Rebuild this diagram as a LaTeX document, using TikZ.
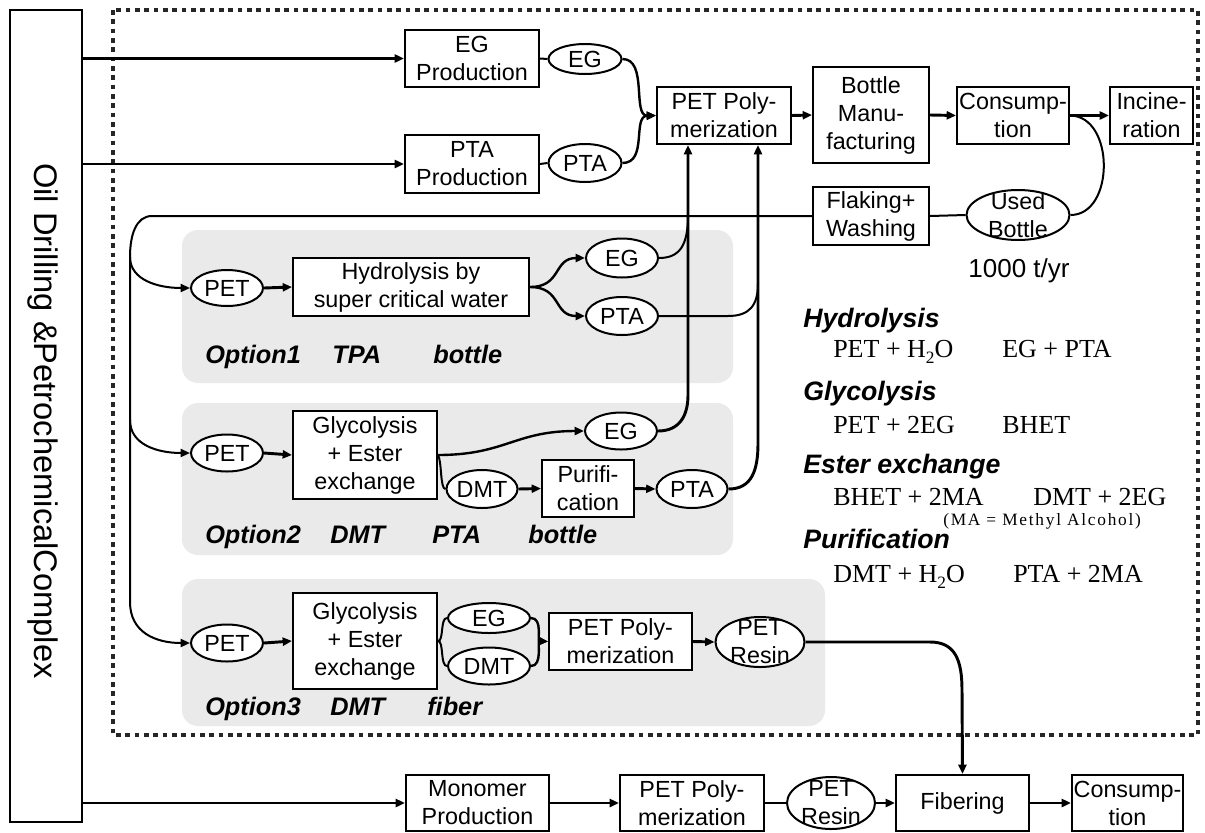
\documentclass[tikz,border=0pt]{standalone}
\usepackage{fontspec}
\setmainfont{Liberation Sans}
\newfontfamily\eqfont{Liberation Serif}
\usetikzlibrary{arrows.meta,shapes.geometric}
\definecolor{panelgray}{RGB}{234,234,234}
\newcommand\subtwo{\raisebox{-0.55ex}{\fontsize{13}{13}\selectfont 2}}
\tikzset{
  box/.style={draw, line width=1.5pt, fill=white, inner sep=0pt, align=center, font=\fontsize{17.5}{21}\selectfont},
  ell/.style={draw, ellipse, line width=1.5pt, fill=white, inner sep=0pt},
  etext/.style={align=center, font=\fontsize{17.5}{21}\selectfont, inner sep=0pt},
  arr/.style={line width=2.2pt, -{Triangle[length=7pt,width=6pt]}},
  thinarr/.style={line width=1.5pt, -{Triangle[length=7pt,width=6pt]}},
  ln/.style={line width=1.5pt},
  panel/.style={fill=panelgray, draw=none, rounded corners=12pt},
  opt/.style={anchor=base west, inner sep=0pt, font=\fontsize{19}{19}\selectfont\bfseries\itshape},
  head/.style={anchor=base west, inner sep=0pt, font=\fontsize{20}{20}\selectfont\bfseries\itshape},
  eq/.style={anchor=base west, inner sep=0pt, font=\eqfont\fontsize{19.5}{19.5}\selectfont},
}
\newcommand\bx[6]{\node[box, minimum width={(#4-#2)*0.75pt}, minimum height={(#5-#3)*0.75pt}] (#1) at ({(#2+#4)/2},{(#3+#5)/2}) {#6};}
\newcommand\el[6]{\node[ell, minimum width={#4*0.75pt}, minimum height={#5*0.75pt}] (#1) at (#2,#3) {}; \node[etext] (#1t) at (#1) {#6};}
\begin{document}
\begin{tikzpicture}[x=0.75pt,y=-0.75pt]
\useasboundingbox (0,0) rectangle (1205,832);
% panels
\fill[panel] (182,230) rectangle (733,383);
\fill[panel] (182,403) rectangle (733,555);
\fill[panel] (182,579) rectangle (825,726);
% dotted frame
\draw[line width=3pt, black!85, dash pattern=on 3.5pt off 3.5pt] (113,10) rectangle (1198,735);
% oil box
\bx{oil}{10}{10}{82}{822}{}
\node[rotate=-90, inner sep=0pt, font=\fontsize{24.5}{24.5}\selectfont] (oiltext) at (43,421) {Oil Drilling \&PetrochemicalComplex};
% top row
\bx{egprod}{405}{30}{539}{87}{EG\\Production}
\bx{ptaprod}{405}{135}{539}{193}{PTA\\Production}
\el{ega}{585}{59}{73}{30}{EG}
\el{ptaa}{585}{163}{73}{38}{PTA}
\bx{poly}{657}{87}{791}{144}{PET Poly-\\merization}
\bx{bottle}{813}{67}{929}{163}{Bottle\\Manu-\\facturing}
\bx{cons}{957}{87}{1069}{144}{Consump-\\tion}
\bx{incin}{1110}{87}{1193}{144}{Incine-\\ration}
\bx{flake}{813}{187}{929}{245}{Flaking+\\Washing}
\el{used}{1018}{215}{103}{50}{Used\\Bottle}
\node[anchor=base, inner sep=0pt, font=\fontsize{19.5}{19.5}\selectfont] (tyr) at (1019,277) {1000 t/yr};
% option 1
\el{pet1}{227}{288}{72}{36}{PET}
\bx{hydro}{293}{258}{529}{316}{Hydrolysis by\\super critical water}
\el{eg1}{622}{258}{72}{39}{EG}
\el{pta1}{622}{316}{72}{38}{PTA}
\node[opt] (o1a) at (205,363) {Option1};
\node[opt] (o1b) at (332,363) {TPA};
\node[opt] (o1c) at (433,363) {bottle};
% option 2
\el{pet2}{227}{453}{72}{37}{PET}
\bx{gly2}{293}{411}{437}{499}{Glycolysis\\+ Ester\\exchange}
\el{eg2}{621}{431}{72}{37}{EG}
\el{dmt2}{482}{489}{71}{38}{DMT}
\bx{purif}{542}{460}{634}{517}{Purifi-\\cation}
\el{pta2}{692}{489}{71}{38}{PTA}
\node[opt] (o2a) at (205,543) {Option2};
\node[opt] (o2b) at (330,543) {DMT};
\node[opt] (o2c) at (432,543) {PTA};
\node[opt] (o2d) at (528,543) {bottle};
% option 3
\el{pet3}{227}{643}{72}{37}{PET}
\bx{gly3}{293}{593}{437}{689}{Glycolysis\\+ Ester\\exchange}
\el{eg3}{489}{618}{82}{30}{EG}
\el{dmt3}{489}{666}{82}{37}{DMT}
\bx{poly3}{549}{613}{692}{670}{PET Poly-\\merization}
\el{resin3}{760}{642}{89}{50}{PET\\Resin}
\node[opt] (o3a) at (205,715) {Option3};
\node[opt] (o3b) at (330,715) {DMT};
\node[opt] (o3c) at (427,715) {fiber};
% bottom row
\bx{mono}{406}{775}{549}{831}{Monomer\\Production}
\bx{polyb}{620}{775}{764}{831}{PET Poly-\\merization}
\el{resinb}{831}{803}{88}{52}{PET\\Resin}
\bx{fiber}{896}{775}{1029}{831}{Fibering}
\bx{consb}{1072}{775}{1183}{831}{Consump-\\tion}
% reactions
\node[head] (h1) at (803,327) {Hydrolysis};
\node[eq] (e1a) at (833,357) {PET + H\subtwo O};
\node[eq] (e1b) at (1002,357) {EG + PTA};
\node[head] (h2) at (803,400) {Glycolysis};
\node[eq] (e2a) at (833,433) {PET + 2EG};
\node[eq] (e2b) at (1002,433) {BHET};
\node[head] (h3) at (803,473) {Ester exchange};
\node[eq] (e3a) at (833,505) {BHET + 2MA};
\node[eq] (e3b) at (1033,505) {DMT + 2EG};
\node[anchor=base west, inner sep=0pt, font=\eqfont\fontsize{13}{13}\selectfont\addfontfeature{LetterSpace=10}] (e3c) at (943,525) {(MA = Methyl Alcohol)};
\node[head] (h4) at (803,548) {Purification};
\node[eq] (e4a) at (833,582) {DMT + H\subtwo O};
\node[eq] (e4b) at (1013,582) {PTA + 2MA};
% connectors from oil complex
\draw[arr] (oil.east |- egprod.west) -- (egprod.west);
\draw[arr] (oil.east |- ptaprod.west) -- (ptaprod.west);
\draw[arr] (oil.east |- mono.west) -- (mono.west);
% top row connectors
\draw[ln] (egprod.east) -- (ega.west);
\draw[ln] (ptaprod.east) -- (ptaa.west);
\draw[arr, line width=1.8pt] (ega.east) .. controls (648,59) and (632,116) .. (poly.west);
\draw[arr, line width=1.8pt] (ptaa.east) .. controls (648,163) and (632,116) .. (poly.west);
\draw[arr] (poly.east) -- (bottle.west);
\draw[arr] (bottle.east) -- (cons.west);
\draw[arr] (cons.east) -- (incin.west);
\draw[ln] (cons.east) .. controls (1115,116) and (1115,215) .. (used.east);
\draw[ln] (used.west) -- (flake.east);
% recycle line
\coordinate (j1) at (130,257);
\coordinate (j2) at (130,420);
\coordinate (j3) at (130,602);
\draw[thinarr] (flake.west) -- (152,216) .. controls (136,216) and (130,235) .. (j1) -- (j3) .. controls (130,632) and (155,643) .. (pet3.west);
\draw[thinarr] (j1) .. controls (130,280) and (158,288) .. (pet1.west);
\draw[thinarr] (j2) .. controls (130,445) and (158,453) .. (pet2.west);
% option 1 connectors
\draw[arr] (pet1.east) -- (hydro.west);
\draw[arr, line width=1.8pt] (hydro.east) .. controls (562,287) and (553,258) .. (eg1.west);
\draw[arr, line width=1.8pt] (hydro.east) .. controls (562,287) and (553,316) .. (pta1.west);
\draw[ln] (eg1.east) .. controls (680,258) and (688,245) .. (688,215);
\draw[ln] (pta1.east) -- (728,316) .. controls (750,316) and (758,305) .. (758,283);
% option 2 connectors
\draw[arr] (pet2.east) -- (gly2.west);
\draw[arr, line width=1.8pt] (gly2.east) .. controls (505,455) and (515,431) .. (eg2.west);
\draw[ln] (gly2.east) .. controls (442,462) and (440,489) .. (dmt2.west);
\draw[arr] (dmt2.east) -- (purif.west);
\draw[arr] (purif.east) -- (pta2.west);
\draw[arr] (eg2.east) .. controls (680,431) and (688,415) .. (688,395) -- (688,0 |- poly.south);
\draw[arr] (pta2.east) .. controls (752,489) and (758,470) .. (758,443) -- (758,0 |- poly.south);
% option 3 connectors
\draw[arr] (pet3.east) -- (gly3.west);
\draw[ln] (gly3.east) .. controls (444,641) and (440,618) .. (eg3.west);
\draw[ln] (gly3.east) .. controls (444,641) and (440,666) .. (dmt3.west);
\draw[arr, line width=1.8pt] (eg3.east) .. controls (543,618) and (537,641) .. (poly3.west);
\draw[arr, line width=1.8pt] (dmt3.east) .. controls (543,666) and (537,641) .. (poly3.west);
\draw[arr] (poly3.east) -- (resin3.west);
\draw[arr] (resin3.east) -- (930,642) .. controls (955,642) and (962,660) .. (962,690) -- (fiber.north);
% bottom connectors
\draw[arr] (mono.east) -- (polyb.west);
\draw[ln] (polyb.east) -- (resinb.west);
\draw[arr] (resinb.east) -- (fiber.west);
\draw[arr] (fiber.east) -- (consb.west);
\end{tikzpicture}
\end{document}
